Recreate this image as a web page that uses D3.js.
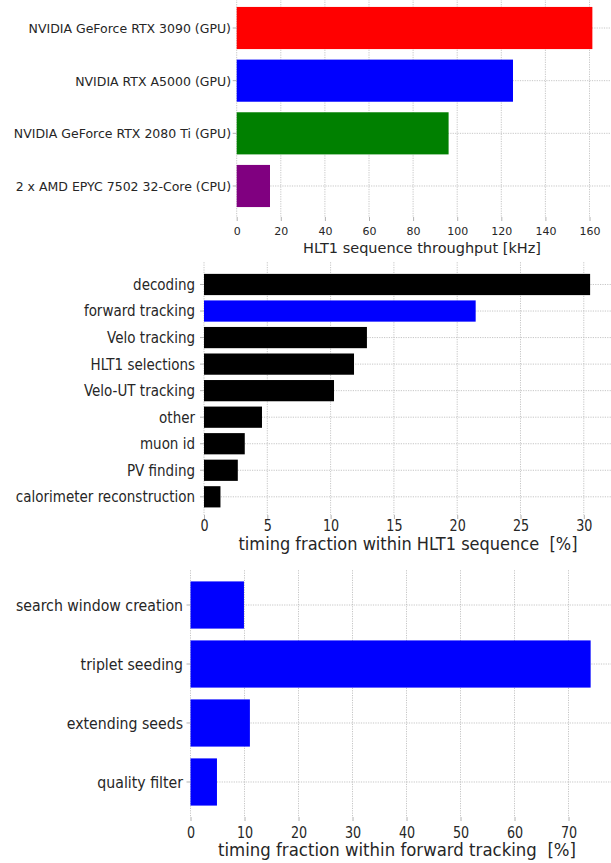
<!DOCTYPE html>
<html>
<head>
<meta charset="utf-8">
<script src="https://cdn.jsdelivr.net/npm/d3@7"></script>
<style>
  body { margin: 0; background: #fff; }
  text { font-family: "DejaVu Sans", sans-serif; fill: #262626; white-space: pre; }
</style>
</head>
<body>
<svg id="chart" width="611" height="863"></svg>
<script>
// ---- top panel: HLT1 throughput per device
var devices = ["NVIDIA GeForce RTX 3090 (GPU)", "NVIDIA RTX A5000 (GPU)", "NVIDIA GeForce RTX 2080 Ti (GPU)", "2 x AMD EPYC 7502 32-Core (CPU)"];
var throughput = [161.3, 125.3, 96.1, 15.1];
var deviceColors = ["#ff0000", "#0000ff", "#008000", "#800080"];
var throughputTicks = [0, 20, 40, 60, 80, 100, 120, 140, 160];

// ---- middle panel: timing fraction within HLT1
var algos = ["decoding", "forward tracking", "Velo tracking", "HLT1 selections", "Velo-UT tracking", "other", "muon id", "PV finding", "calorimeter reconstruction"];
var algoFraction = [30.5, 21.46, 12.87, 11.85, 10.27, 4.58, 3.22, 2.67, 1.30];
var algoColors = ["#000000", "#0000ff", "#000000", "#000000", "#000000", "#000000", "#000000", "#000000", "#000000"];
var algoTicks = [0, 5, 10, 15, 20, 25, 30];

// ---- bottom panel: timing fraction within forward tracking
var steps = ["search window creation", "triplet seeding", "extending seeds", "quality filter"];
var stepFraction = [9.9, 74.1, 11.0, 4.9];
var stepColors = ["#0000ff", "#0000ff", "#0000ff", "#0000ff"];
var stepTicks = [0, 10, 20, 30, 40, 50, 60, 70];

var svg = d3.select("#chart");

function drawPanel(cfg) {
	var g = svg.append("g");
	var x = d3.scaleLinear().domain([0, cfg.xMax]).range([cfg.left, cfg.right]);
	var y = d3.scaleBand()
		.domain(cfg.cats)
		.range([cfg.top, cfg.bottom])
		.paddingInner(0.2)
		.paddingOuter(cfg.pad);

	// dotted grid (behind bars)
	g.append("g").selectAll("line")
		.data(cfg.ticks)
		.join("line")
		.attr("x1", function(d) { return x(d); })
		.attr("x2", function(d) { return x(d); })
		.attr("y1", cfg.top)
		.attr("y2", cfg.axisY)
		.attr("stroke", "#b8b8b8")
		.attr("stroke-width", 0.8)
		.attr("stroke-dasharray", "1.2,1.2");

	g.append("g").selectAll("line")
		.data(cfg.cats)
		.join("line")
		.attr("x1", cfg.left)
		.attr("x2", 611)
		.attr("y1", function(d) { return y(d) + y.bandwidth() / 2; })
		.attr("y2", function(d) { return y(d) + y.bandwidth() / 2; })
		.attr("stroke", "#b8b8b8")
		.attr("stroke-width", 0.8)
		.attr("stroke-dasharray", "1.2,1.2");

	g.append("g").selectAll("rect")
		.data(cfg.values)
		.join("rect")
		.attr("x", x(0))
		.attr("y", function(d, i) { return y(cfg.cats[i]); })
		.attr("width", function(d) { return x(d) - x(0); })
		.attr("height", y.bandwidth())
		.attr("fill", function(d, i) { return cfg.colors[i]; });

	// x axis
	var xa = g.append("g")
		.attr("transform", "translate(0," + cfg.axisY + ")")
		.call(d3.axisBottom(x).tickValues(cfg.ticks).tickSize(4).tickPadding(cfg.xPad));
	xa.select(".domain").remove();
	xa.attr("font-family", null).attr("font-size", null);
	xa.selectAll(".tick line").attr("stroke", "#a0a0a0").attr("stroke-width", 0.8);
	xa.selectAll(".tick text")
		.attr("fill", "#262626")
		.style("font-size", cfg.xFont + "px")
		.attr("transform", "scale(" + cfg.xSq + ",1)");

	// y axis
	var ya = g.append("g")
		.attr("transform", "translate(" + cfg.left + ",0)")
		.call(d3.axisLeft(y).tickSize(4).tickPadding(cfg.yPad));
	ya.select(".domain").remove();
	ya.attr("font-family", null).attr("font-size", null);
	ya.selectAll(".tick line").attr("stroke", "#a0a0a0").attr("stroke-width", 0.8);
	ya.selectAll(".tick text")
		.attr("fill", "#262626")
		.style("font-size", cfg.yFont + "px")
		.attr("dy", cfg.yDy)
		.attr("x", -(4 + cfg.yPad) / cfg.ySq)
		.attr("transform", "scale(" + cfg.ySq + ",1)");

	// axis title
	g.append("text")
		.attr("transform", "translate(" + cfg.labelX + "," + cfg.labelY + ") scale(" + cfg.labelSq + ",1)")
		.attr("text-anchor", "middle")
		.style("font-size", cfg.labelFont + "px")
		.text(cfg.label);
}

drawPanel({
	cats: devices, values: throughput, colors: deviceColors, ticks: throughputTicks,
	xMax: 169.75, left: 236.7, right: 611,
	top: -3.07, bottom: 217.07, pad: 0.19, axisY: 217,
	xPad: 6.3, xFont: 11, xSq: 1,
	yPad: 1.7, yFont: 12.5, ySq: 1, yDy: "0.4em",
	label: "HLT1 sequence throughput [kHz]", labelX: 422, labelY: 252.7, labelFont: 14.5, labelSq: 1
});

drawPanel({
	cats: algos, values: algoFraction, colors: algoColors, ticks: algoTicks,
	xMax: 32.15, left: 204, right: 611,
	top: 262.2, bottom: 519.1, pad: 0.44, axisY: 515,
	xPad: 1.7, xFont: 15, xSq: 0.85,
	yPad: 5, yFont: 15, ySq: 0.9, yDy: "0.36em",
	label: "timing fraction within HLT1 sequence  [%]", labelX: 408, labelY: 550, labelFont: 18, labelSq: 0.9
});

drawPanel({
	cats: steps, values: stepFraction, colors: stepColors, ticks: stepTicks,
	xMax: 77.87, left: 190.5, right: 611,
	top: 570.2, bottom: 816.8, pad: 0.19, axisY: 817,
	xPad: 6, xFont: 15, xSq: 0.85,
	yPad: 3.5, yFont: 15.7, ySq: 0.9, yDy: "0.36em",
	label: "timing fraction within forward tracking  [%]", labelX: 397, labelY: 856, labelFont: 18.4, labelSq: 0.9
});
</script>
</body>
</html>
